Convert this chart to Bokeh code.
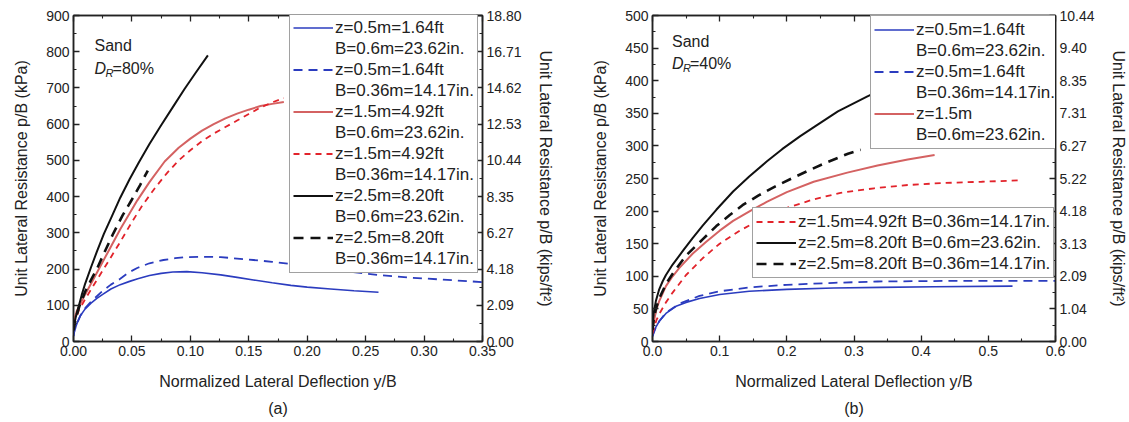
import numpy as np
from bokeh.plotting import figure
from bokeh.models import (LinearAxis, FixedTicker, NumeralTickFormatter, Legend,
                          LegendItem, Label, Title, Range1d, CustomLabelingPolicy)
from bokeh.layouts import row
from bokeh.embed import file_html
from bokeh.resources import INLINE

FONT = "Liberation Sans"

# ---------------- Panel (a): Sand, DR = 80% ----------------
a_bs_x = [0, 0.001, 0.003, 0.006, 0.01, 0.015, 0.02, 0.025, 0.032, 0.04, 0.048, 0.055, 0.065, 0.075, 0.085, 0.097, 0.11, 0.126, 0.14, 0.154, 0.17, 0.186, 0.2, 0.22, 0.24, 0.261]
a_bs_y = [15, 32, 50, 72, 90, 106, 119, 130, 145, 157, 166, 173, 182, 188, 192, 193, 190, 184, 177, 170, 162, 155, 150, 145, 140, 136]
a_bd_x = [0, 0.001, 0.003, 0.006, 0.01, 0.015, 0.02, 0.025, 0.032, 0.04, 0.047, 0.0545, 0.065, 0.077, 0.087, 0.097, 0.11, 0.126, 0.14, 0.154, 0.17, 0.186, 0.21, 0.235, 0.263, 0.29, 0.32, 0.35]
a_bd_y = [15, 32, 50, 72, 92, 110, 125, 140, 157, 173, 190, 203, 216, 225, 230, 233, 234, 233, 229, 225, 220, 214, 204, 193, 183, 176, 170, 164]
a_rs_x = [0, 0.003, 0.01, 0.02, 0.03, 0.04, 0.0545, 0.065, 0.078, 0.09, 0.10, 0.11, 0.12, 0.13, 0.14, 0.15, 0.16, 0.17, 0.18]
a_rs_y = [55, 86, 130, 190, 250, 310, 389, 440, 497, 535, 560, 582, 600, 616, 629, 640, 650, 656, 661]
a_rd_x = [0, 0.0045, 0.01, 0.02, 0.03, 0.04, 0.05, 0.0588, 0.07, 0.08, 0.09, 0.10, 0.11, 0.12, 0.13, 0.14, 0.15, 0.16, 0.17, 0.18]
a_rd_y = [45, 86, 117, 170, 222, 275, 330, 375, 425, 465, 500, 528, 553, 574, 592, 610, 628, 646, 660, 672]
a_ks_x = [0, 0.002, 0.004, 0.007, 0.01, 0.015, 0.02, 0.026, 0.033, 0.04, 0.048, 0.056, 0.065, 0.075, 0.085, 0.095, 0.105, 0.115]
a_ks_y = [40, 68, 92, 128, 160, 205, 248, 297, 347, 397, 448, 495, 545, 597, 647, 697, 744, 790]
a_kd_x = [0, 0.002, 0.005, 0.01, 0.015, 0.02, 0.027, 0.034, 0.042, 0.05, 0.057, 0.0636]
a_kd_y = [30, 65, 97, 138, 170, 200, 250, 298, 348, 392, 432, 472]

# ---------------- Panel (b): Sand, DR = 40% ----------------
b_bs_x = [0, 0.002, 0.005, 0.01, 0.02, 0.035, 0.05, 0.07, 0.1, 0.144, 0.2, 0.27, 0.34, 0.42, 0.536]
b_bs_y = [8, 15, 22, 31, 43, 54, 60, 66, 72, 77, 80, 82, 83, 84, 85]
b_bd_x = [0, 0.005, 0.01, 0.02, 0.04, 0.07, 0.1, 0.144, 0.2, 0.27, 0.335, 0.45, 0.6]
b_bd_y = [8, 22, 31, 44, 58, 70, 77, 83, 87, 90, 92, 93, 93]
b_rs_x = [0, 0.003, 0.006, 0.01, 0.02, 0.03, 0.04, 0.06, 0.08, 0.10, 0.12, 0.145, 0.17, 0.2, 0.24, 0.29, 0.335, 0.38, 0.42]
b_rs_y = [18, 36, 50, 62, 85, 100, 113, 135, 153, 170, 185, 200, 214, 229, 245, 259, 270, 279, 286]
b_rd_x = [0, 0.003, 0.006, 0.01, 0.02, 0.03, 0.05, 0.075, 0.1, 0.13, 0.16, 0.2, 0.24, 0.28, 0.33, 0.38, 0.43, 0.49, 0.544]
b_rd_y = [12, 24, 33, 42, 60, 75, 102, 128, 150, 170, 187, 205, 218, 228, 235, 240, 243, 245, 247]
b_ks_x = [0, 0.002, 0.005, 0.01, 0.015, 0.02, 0.03, 0.046, 0.06, 0.075, 0.095, 0.12, 0.144, 0.17, 0.193, 0.22, 0.242, 0.276, 0.32, 0.37, 0.42]
b_ks_y = [25, 45, 62, 80, 92, 102, 118, 140, 159, 178, 202, 230, 253, 276, 295, 315, 330, 353, 376, 400, 420]
b_kd_x = [0, 0.002, 0.005, 0.01, 0.02, 0.03, 0.05, 0.075, 0.095, 0.115, 0.134, 0.158, 0.183, 0.207, 0.232, 0.26, 0.291, 0.31]
b_kd_y = [18, 35, 50, 66, 88, 104, 132, 157, 177, 194, 209, 224, 238, 250, 262, 275, 288, 294]

# ---------------- Ticks ----------------
a_x_ticks = [0, 0.05, 0.10, 0.15, 0.20, 0.25, 0.30, 0.35]
a_x_minor = [0.025, 0.075, 0.125, 0.175, 0.225, 0.275, 0.325]
a_y_ticks = [0, 100, 200, 300, 400, 500, 600, 700, 800, 900]
a_y_minor = [50, 150, 250, 350, 450, 550, 650, 750, 850]
a_kips_labels = ["0.00", "2.09", "4.18", "6.27", "8.35", "10.44", "12.53", "14.62", "16.71", "18.80"]

b_x_ticks = [0, 0.1, 0.2, 0.3, 0.4, 0.5, 0.6]
b_x_minor = [0.05, 0.15, 0.25, 0.35, 0.45, 0.55]
b_y_ticks = [0, 50, 100, 150, 200, 250, 300, 350, 400, 450, 500]
b_y_minor = [25, 75, 125, 175, 225, 275, 325, 375, 425, 475]
b_kips_labels = ["0.00", "1.04", "2.09", "3.13", "4.18", "5.22", "6.27", "7.31", "8.35", "9.40", "10.44"]

BLUE = "#2b3cbf"
RED_S = "#d46262"
RED_D = "#e2232b"
BLACK = "#111111"
AX = "#222222"

HIDE_ALL = CustomLabelingPolicy(code="""
for (const i of indices) { indices.unset(i) }
return indices
""")


def style_axis(ax, labels=True):
    ax.major_tick_in = 6
    ax.major_tick_out = 0
    ax.minor_tick_in = 3
    ax.minor_tick_out = 0
    ax.axis_line_width = 1.5
    ax.axis_line_color = AX
    ax.major_tick_line_width = 1.3
    ax.major_tick_line_color = AX
    ax.minor_tick_line_color = AX
    ax.minor_tick_line_width = 1.1
    ax.major_label_text_font = FONT
    ax.major_label_text_color = AX
    ax.major_label_text_font_size = "14px" if labels else "1px"
    ax.major_label_standoff = 4 if labels else 0
    if not labels:
        ax.major_label_policy = HIDE_ALL
    ax.axis_label_text_font = FONT
    ax.axis_label_text_font_size = "16px"
    ax.axis_label_text_font_style = "normal"
    ax.axis_label_text_color = AX


def make_panel(width, bl, br, xr, yr, xt, xm, yt, ym, kips, xfmt):
    p = figure(width=width, height=422, output_backend="svg", toolbar_location=None,
               x_range=Range1d(*xr), y_range=Range1d(*yr),
               min_border_left=bl, min_border_right=br, min_border_top=15, min_border_bottom=81,
               x_axis_label="Normalized Lateral Deflection y/B",
               y_axis_label="Unit Lateral Resistance p/B (kPa)")
    p.grid.visible = False
    p.outline_line_color = AX
    p.outline_line_width = 1.5
    p.background_fill_color = "white"
    p.border_fill_color = "white"

    xa = p.xaxis[0]
    xa.ticker = FixedTicker(ticks=xt, minor_ticks=xm)
    xa.formatter = NumeralTickFormatter(format=xfmt)
    style_axis(xa)
    xa.axis_label_standoff = 14
    ya = p.yaxis[0]
    ya.ticker = FixedTicker(ticks=yt, minor_ticks=ym)
    style_axis(ya)
    ya.axis_label_standoff = 13

    top = LinearAxis(ticker=FixedTicker(ticks=xt, minor_ticks=xm))
    style_axis(top, labels=False)
    p.add_layout(top, "above")

    right = LinearAxis(ticker=FixedTicker(ticks=yt, minor_ticks=ym),
                       axis_label="Unit Lateral Resistance p/B (kips/ft²)")
    right.major_label_overrides = {t: s for t, s in zip(yt, kips)}
    style_axis(right)
    right.axis_label_standoff = 12
    p.add_layout(right, "right")
    return p


def lines(p, data):
    rs = {}
    rs["bs"] = p.line(data["bs"][0], data["bs"][1], line_color=BLUE, line_width=1.6)
    rs["bd"] = p.line(data["bd"][0], data["bd"][1], line_color=BLUE, line_width=1.8, line_dash="9 6")
    rs["rs"] = p.line(data["rs"][0], data["rs"][1], line_color=RED_S, line_width=2.0)
    rs["rd"] = p.line(data["rd"][0], data["rd"][1], line_color=RED_D, line_width=1.8, line_dash="6 5")
    rs["ks"] = p.line(data["ks"][0], data["ks"][1], line_color=BLACK, line_width=2.0)
    rs["kd"] = p.line(data["kd"][0], data["kd"][1], line_color=BLACK, line_width=2.6, line_dash="10 7")
    return rs


def legend(items, loc):
    lg = Legend(items=items, location=loc, orientation="vertical")
    lg.label_text_font = FONT
    lg.label_text_font_size = "17px"
    lg.label_text_color = AX
    lg.label_height = 21
    lg.glyph_height = 21
    lg.glyph_width = 40
    lg.label_standoff = 2
    lg.spacing = 0
    lg.padding = 3
    lg.margin = 0
    lg.border_line_color = "#444444"
    lg.border_line_width = 1
    lg.background_fill_color = "white"
    lg.background_fill_alpha = 1
    return lg


def annotate(p, x, y1, y2, dr):
    p.add_layout(Label(x=x, y=y1, text="Sand", text_font=FONT, text_font_size="16px",
                       text_color=AX, text_baseline="middle"))
    p.add_layout(Label(x=x, y=y2, text="D", text_font=FONT, text_font_size="16px",
                       text_font_style="italic", text_color=AX, text_baseline="middle"))
    p.add_layout(Label(x=x, y=y2, x_offset=11, y_offset=-5, text="R", text_font=FONT,
                       text_font_size="11px", text_font_style="italic", text_color=AX,
                       text_baseline="middle"))
    p.add_layout(Label(x=x, y=y2, x_offset=18, text=dr, text_font=FONT, text_font_size="16px",
                       text_color=AX, text_baseline="middle"))


# ---- panel a ----
pa = make_panel(565, 73, 83, (0, 0.35), (0, 900), a_x_ticks, a_x_minor, a_y_ticks, a_y_minor,
                a_kips_labels, "0.00")
ra = lines(pa, {"bs": (a_bs_x, a_bs_y), "bd": (a_bd_x, a_bd_y), "rs": (a_rs_x, a_rs_y),
                "rd": (a_rd_x, a_rd_y), "ks": (a_ks_x, a_ks_y), "kd": (a_kd_x, a_kd_y)})
dummy_a = pa.line([], [], line_alpha=0)
items_a = []
for key, l1, l2 in [("bs", "z=0.5m=1.64ft", "B=0.6m=23.62in."),
                    ("bd", "z=0.5m=1.64ft", "B=0.36m=14.17in."),
                    ("rs", "z=1.5m=4.92ft", "B=0.6m=23.62in."),
                    ("rd", "z=1.5m=4.92ft", "B=0.36m=14.17in."),
                    ("ks", "z=2.5m=8.20ft", "B=0.6m=23.62in."),
                    ("kd", "z=2.5m=8.20ft", "B=0.36m=14.17in.")]:
    items_a.append(LegendItem(label=l1, renderers=[ra[key]]))
    items_a.append(LegendItem(label=l2, renderers=[dummy_a]))
pa.add_layout(legend(items_a, (216, 68)))
annotate(pa, 0.018, 817, 754, "=80%")
pa.add_layout(Title(text="(a)", align="center", text_font=FONT, text_font_size="16px",
                    text_font_style="normal", text_color=AX), "below")

# ---- panel b ----
pb = make_panel(564, 87, 69, (0, 0.6), (0, 500), b_x_ticks, b_x_minor, b_y_ticks, b_y_minor,
                b_kips_labels, "0.0")
rb = lines(pb, {"bs": (b_bs_x, b_bs_y), "bd": (b_bd_x, b_bd_y), "rs": (b_rs_x, b_rs_y),
                "rd": (b_rd_x, b_rd_y), "ks": (b_ks_x, b_ks_y), "kd": (b_kd_x, b_kd_y)})
dummy_b = pb.line([], [], line_alpha=0)
items_b1 = []
for key, l1, l2 in [("bs", "z=0.5m=1.64ft", "B=0.6m=23.62in."),
                    ("bd", "z=0.5m=1.64ft", "B=0.36m=14.17in."),
                    ("rs", "z=1.5m", "B=0.6m=23.62in.")]:
    items_b1.append(LegendItem(label=l1, renderers=[rb[key]]))
    items_b1.append(LegendItem(label=l2, renderers=[dummy_b]))
pb.add_layout(legend(items_b1, (218, 192)))
items_b2 = [LegendItem(label="z=1.5m=4.92ft B=0.36m=14.17in.", renderers=[rb["rd"]]),
            LegendItem(label="z=2.5m=8.20ft B=0.6m=23.62in.", renderers=[rb["ks"]]),
            LegendItem(label="z=2.5m=8.20ft B=0.36m=14.17in.", renderers=[rb["kd"]])]
pb.add_layout(legend(items_b2, (100, 63)))
annotate(pb, 0.029, 460, 427, "=40%")
pb.add_layout(Title(text="(b)", align="center", text_font=FONT, text_font_size="16px",
                    text_font_style="normal", text_color=AX), "below")

layout = row(pa, pb)
open("out.html", "w").write(file_html(layout, INLINE))
